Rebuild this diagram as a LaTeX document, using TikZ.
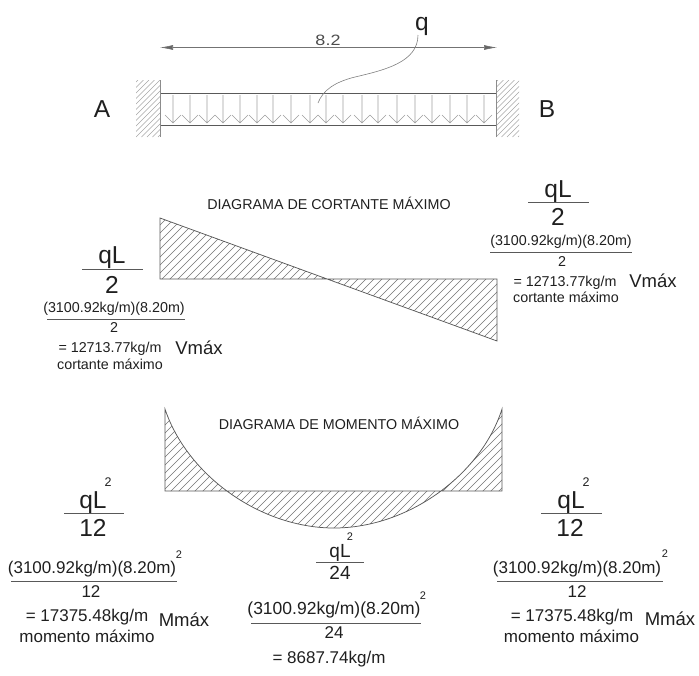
\documentclass[tikz,border=0pt]{standalone}
\usepackage{fontspec}
\setmainfont{Liberation Sans}
\usetikzlibrary{arrows.meta}
\definecolor{ink}{gray}{0.12}
\tikzset{x=1pt,y=-1pt,
 lab/.style={inner sep=0pt,text=ink,anchor=base},
 huge/.style={lab,font=\fontsize{24.5}{24}\selectfont},
 big/.style={lab,font=\fontsize{18.5}{18}\selectfont},
 mid/.style={lab,font=\fontsize{17}{17}\selectfont},
 midc/.style={lab,font=\fontsize{17.5}{17}\selectfont},
 small/.style={lab,font=\fontsize{14.3}{14}\selectfont},
 tiny/.style={lab,font=\fontsize{11}{11}\selectfont},
 sqr/.style={lab,font=\fontsize{12.5}{12}\selectfont},
 cfrac/.style={lab,font=\fontsize{19}{19}\selectfont},
 rule/.style={draw=black!65,line width=0.7pt},
 outline/.style={draw=black!65,line width=0.75pt},
 hatchline/.style={draw=black!55,line width=0.4pt},
 wallhatch/.style={draw=black!35,line width=0.4pt},
 loadarrow/.style={draw=black!38,line width=0.6pt},
 dimline/.style={draw=black!55,line width=0.6pt,{Latex[length=13pt,width=5pt,fill=black!60]}-{Latex[length=13pt,width=5pt,fill=black!60]}}
}
\begin{document}
\begin{tikzpicture}
\useasboundingbox (0,0) rectangle (699,675);
% supports
\begin{scope}\clip (136,80) rectangle (160,137); \foreach \hx in {70,75.5,...,165}{\draw[wallhatch] (\hx,137) -- ({\hx+57},80);}\end{scope}
\begin{scope}\clip (496,80) rectangle (519,137); \foreach \hx in {430,435.5,...,525}{\draw[wallhatch] (\hx,137) -- ({\hx+57},80);}\end{scope}
% beam
\node[draw=black!65,line width=0.8pt,minimum width=336pt,minimum height=32pt,inner sep=0pt,anchor=north west] (beam) at (160,93) {};
\draw[black!45,line width=0.6pt] (160,80) -- (160,137) (496,80) -- (496,137);
\foreach \ax in {173,190,207,223,240,257,273,291,310,326,343,362,378,397,415,432,450,467,484}{\draw[loadarrow] (\ax,95) -- (\ax,123) ({\ax-8},115) -- (\ax,123) -- ({\ax+8},115);}
% dimension
\coordinate (dl) at (160,47.5); \coordinate (dr) at (497,47.5);
\draw[dimline] (dl) -- (dr);
\node[lab,text=black!70,font=\fontsize{15}{15}\selectfont\addfontfeature{FakeStretch=1.2}] (dimtxt) at (328,45.7) {8.2};
\node[huge] (qlabel) at (422,30) {q};
\coordinate (qend) at (318,103);
\draw[black!50,line width=0.6pt] (418,35) .. controls (418,62) and (385,70) .. (355,77) .. controls (335,82) and (323,90) .. (qend);
\node[huge] (A) at (102,117) {A};
\node[huge] (B) at (547,117) {B};
% shear
\begin{scope}\clip (160,218) -- (160,279) -- (328,279) -- cycle; \foreach \hx in {100,108,...,340}{\draw[hatchline] (\hx,285) -- ({\hx+70},215);}\end{scope}
\begin{scope}\clip (328,279) -- (497,279) -- (497,341) -- cycle; \foreach \hx in {260,268,...,500}{\draw[hatchline] (\hx,345) -- ({\hx+70},275);}\end{scope}
\draw[outline] (160,218) -- (160,279) -- (497,279) -- (497,341) -- cycle;
\node[small] (t1) at (329,209) {DIAGRAMA DE CORTANTE MÁXIMO};
% moment
\begin{scope}\clip (165,409) .. controls (187,475) and (260,528) .. (334,528) .. controls (408,528) and (481,475) .. (502,409) -- (502,491) -- (165,491) -- cycle;
 \foreach \hx in {60,68,...,520}{\draw[hatchline] (\hx,530) -- ({\hx+125},405);}\end{scope}
\draw[outline] (165,409) .. controls (187,475) and (260,528) .. (334,528) .. controls (408,528) and (481,475) .. (502,409) -- (502,491) -- (165,491) -- cycle;
\node[small] (t2) at (339,429) {DIAGRAMA DE MOMENTO MÁXIMO};
% shear left
\node[huge] (ql1) at (112,263) {qL};
\draw[rule] (82,269) -- (143,269);
\node[huge] (two1) at (112,293) {2};
\node[small] (f1) at (114,312) {(3100.92kg/m)(8.20m)};
\draw[rule] (47,319) -- (185,319);
\node[small] (d1) at (114,332) {2};
\node[small] (r1) at (110,352) {= 12713.77kg/m};
\node[small] (c1) at (110,369) {cortante máximo};
\node[big] (v1) at (199,354) {Vmáx};
% shear right
\node[huge] (ql2) at (558,197) {qL};
\draw[rule] (528,202) -- (589,202);
\node[huge] (two2) at (558,225) {2};
\node[small] (f2) at (561,245) {(3100.92kg/m)(8.20m)};
\draw[rule] (490,252) -- (632,252);
\node[small] (d2) at (562,266) {2};
\node[small] (r2) at (565,286) {= 12713.77kg/m};
\node[small] (c2) at (566,302) {cortante máximo};
\node[big] (v2) at (653,287) {Vmáx};
% moment left
\node[huge] (ql3) at (93,508) {qL};
\node[sqr] (s3) at (108,486) {2};
\draw[rule] (64,513) -- (124,513);
\node[huge] (n3) at (93,536) {12};
\node[mid] (f3) at (92,573) {(3100.92kg/m)(8.20m)};
\node[tiny] (e3) at (179,558) {2};
\draw[rule] (11,581) -- (177,581);
\node[mid] (d3) at (91,597) {12};
\node[mid] (r3) at (87,621) {= 17375.48kg/m};
\node[mid] (c3) at (87,642) {momento máximo};
\node[big] (m3) at (184,626) {Mmáx};
% moment centre
\node[cfrac] (ql4) at (340,557) {qL};
\node[tiny] (s4) at (350,540) {2};
\draw[rule] (316,562) -- (364,562);
\node[cfrac] (n4) at (340,579) {24};
\node[midc] (f4) at (334,614) {(3100.92kg/m)(8.20m)};
\node[tiny] (e4) at (423,599) {2};
\draw[rule] (251,623) -- (421,623);
\node[mid] (d4) at (334,638) {24};
\node[mid] (r4) at (329,663) {= 8687.74kg/m};
% moment right
\node[huge] (ql5) at (571,508) {qL};
\node[sqr] (s5) at (586,486) {2};
\draw[rule] (541,513) -- (602,513);
\node[huge] (n5) at (570,536) {12};
\node[mid] (f5) at (577,573) {(3100.92kg/m)(8.20m)};
\node[tiny] (e5) at (665,557) {2};
\draw[rule] (497,581) -- (663,581);
\node[mid] (d5) at (577,597) {12};
\node[mid] (r5) at (572,621) {= 17375.48kg/m};
\node[mid] (c5) at (571.5,642) {momento máximo};
\node[big] (m5) at (670,625) {Mmáx};
\end{tikzpicture}
\end{document}
